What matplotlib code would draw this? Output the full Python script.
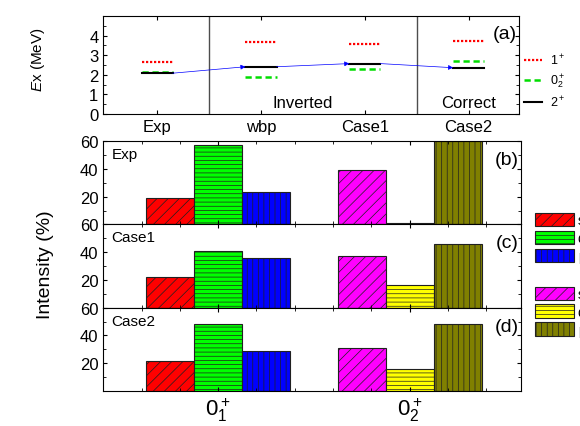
import matplotlib
matplotlib.use("Agg")
import matplotlib.pyplot as plt
from matplotlib.ticker import MultipleLocator

plt.rcParams['font.family'] = ['Liberation Sans', 'DejaVu Sans']
plt.rcParams['mathtext.fontset'] = 'custom'
plt.rcParams['mathtext.rm'] = 'Liberation Sans'
plt.rcParams['mathtext.it'] = 'Liberation Sans:italic'
plt.rcParams['hatch.linewidth'] = 0.5

# panel (a): excitation energies (MeV)
cases = ['Exp', 'wbp', 'Case1', 'Case2']
e_1plus = [2.63, 3.66, 3.58, 3.75]
e_02plus = [2.13, 1.86, 2.28, 2.70]
e_2plus = [2.08, 2.41, 2.57, 2.36]

# panels (b)-(d): intensities (%)
groups = ['$\\mathregular{0_1^+}$', '$\\mathregular{0_2^+}$']
panel_names = ['Exp', 'Case1', 'Case2']
panel_tags = ['(b)', '(c)', '(d)']
s_vals = [[19, 39], [22, 37], [21.5, 31]]
d_vals = [[57, 1], [41, 16.3], [48, 16]]
p_vals = [[23.6, 60], [35.6, 46], [28.6, 48.6]]

fig = plt.figure(figsize=(5.8, 4.27), dpi=100)

# ---------- panel (a)
axa = fig.add_axes([0.178, 0.731, 0.716, 0.229])
xs = range(1, len(cases) + 1)
hw = 0.15
for i, x in enumerate(xs):
    l1, = axa.plot([x - hw, x + hw], [e_1plus[i]] * 2, color='red', ls=(0, (1, 0.8)), lw=1.6)
    l0, = axa.plot([x - hw, x + hw], [e_02plus[i]] * 2, color='#00dd00', ls=(0, (2.5, 1.5)), lw=1.8)
    l2, = axa.plot([x - hw, x + hw], [e_2plus[i]] * 2, color='black', ls='-', lw=1.5)
for i in range(len(cases) - 1):
    axa.annotate('', xy=(xs[i + 1] - hw, e_2plus[i + 1]), xytext=(xs[i] + hw, e_2plus[i]),
                 arrowprops=dict(arrowstyle='-|>', color='blue', lw=0.5,
                                 mutation_scale=7, shrinkA=0, shrinkB=0))
axa.axvline(1.5, color='0.3', lw=1)
axa.axvline(3.5, color='0.3', lw=1)
axa.text(2.4, 0.6, 'Inverted', ha='center', va='center', fontsize=12)
axa.text(4.0, 0.6, 'Correct', ha='center', va='center', fontsize=12)
axa.text(4.46, 4.1, '(a)', ha='right', va='center', fontsize=14)
axa.set_xlim(0.48, 4.48)
axa.set_ylim(0, 5)
axa.set_xticks(list(xs))
axa.set_xticklabels(cases, fontsize=12)
axa.yaxis.set_minor_locator(MultipleLocator(0.5))
axa.set_yticks([0, 1, 2, 3, 4])
axa.tick_params(direction='in', top=True, right=True, which='both', labelsize=12, length=3)
axa.tick_params(which='minor', length=2)
axa.legend([l1, l0, l2], ['$\\mathregular{1^+}$', '$\\mathregular{0_2^+}$', '$\\mathregular{2^+}$'],
           loc='center left', bbox_to_anchor=(1.0, 0.337), frameon=False, fontsize=9,
           handlelength=1.5, labelspacing=0.35, handletextpad=0.6,
           borderaxespad=0.2, borderpad=0.2)
fig.text(0.066, 0.86, '$E$x (MeV)', rotation=90, ha='center', va='center', fontsize=11)

# ---------- panels (b)-(d)
w = 0.25
colors_1 = ['#ff0000', '#00ff00', '#0000ff']
colors_2 = ['#ff00ff', '#ffff00', '#808000']
hatches = ['///', '----', '|||']
ph = 0.195
bottoms = [0.667 - ph, 0.667 - 2 * ph, 0.667 - 3 * ph]
for k in range(3):
    ax = fig.add_axes([0.178, bottoms[k], 0.72, ph])
    vals = [s_vals[k], d_vals[k], p_vals[k]]
    handles1, handles2 = [], []
    for j in range(3):
        xpos = 1 + (j - 1) * w
        b1 = ax.bar(xpos, vals[j][0], width=w, color=colors_1[j], edgecolor='#202020',
                    hatch=hatches[j], lw=0.8)
        b2 = ax.bar(xpos + 1, vals[j][1], width=w, color=colors_2[j], edgecolor='#202020',
                    hatch=hatches[j], lw=0.8)
        handles1.append(b1)
        handles2.append(b2)
    ax.set_xlim(0.4, 2.58)
    ax.set_ylim(0, 60)
    ax.set_yticks([20, 40, 60])
    ax.yaxis.set_minor_locator(MultipleLocator(10))
    ax.set_xticks([1, 2])
    ax.xaxis.set_minor_locator(MultipleLocator(0.2))
    ax.tick_params(direction='in', top=True, right=True, which='both', labelsize=12, length=3)
    ax.tick_params(which='minor', length=2)
    if k < 2:
        ax.set_xticklabels([])
    else:
        ax.set_xticklabels(groups, fontsize=16)
    ax.text(0.02, 0.93, panel_names[k], transform=ax.transAxes, ha='left', va='top', fontsize=11)
    ax.text(0.995, 0.88, panel_tags[k], transform=ax.transAxes, ha='right', va='top', fontsize=14)

fig.legend(handles1, ['s', 'd', 'p'], loc='center left', bbox_to_anchor=(0.905, 0.44),
           frameon=False, fontsize=10, handlelength=2.8, handleheight=1.1,
           labelspacing=0.25, handletextpad=0.3, borderpad=0.2)
fig.legend(handles2, ['s', 'd', 'p'], loc='center left', bbox_to_anchor=(0.905, 0.268),
           frameon=False, fontsize=10, handlelength=2.8, handleheight=1.1,
           labelspacing=0.25, handletextpad=0.3, borderpad=0.2)
fig.text(0.078, 0.38, 'Intensity (%)', rotation=90, ha='center', va='center', fontsize=14)

fig.savefig('out.png', dpi=100)
